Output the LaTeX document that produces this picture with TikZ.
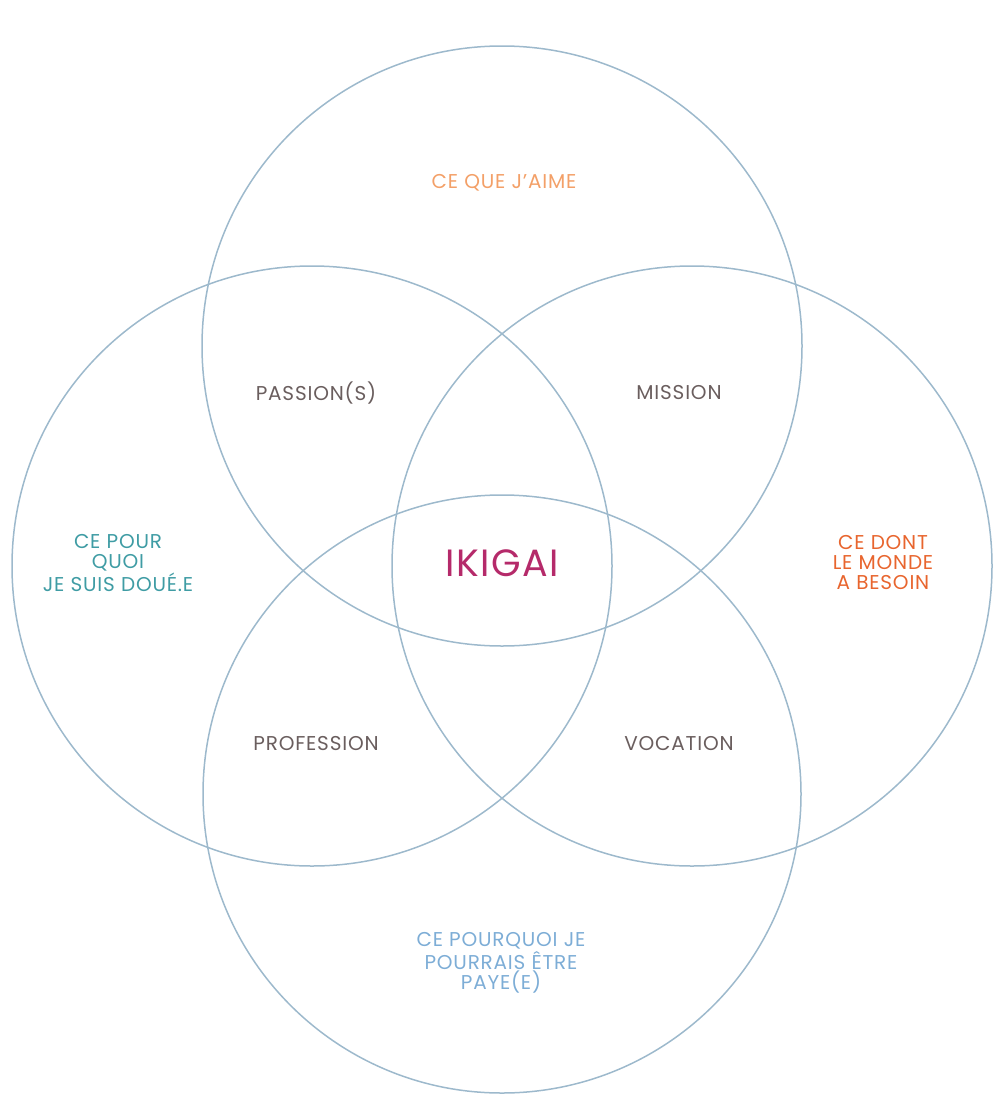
\documentclass[tikz,border=0pt]{standalone}
\usepackage{fontspec}
\setmainfont{Poppins}[LetterSpace=4]
\definecolor{ring}{HTML}{9DB9CC}
\definecolor{corange}{HTML}{F3A068}
\definecolor{cteal}{HTML}{3F9CA4}
\definecolor{cmag}{HTML}{B52A6A}
\definecolor{cred}{HTML}{E8652E}
\definecolor{cblue}{HTML}{7DADD6}
\definecolor{cgrey}{HTML}{6A5E5E}
\tikzset{
  ringline/.style={draw=ring, line width=0.75pt},
  lbl/.style={font=\fontsize{10pt}{10pt}\selectfont, align=center, inner sep=0pt},
}
\begin{document}
\begin{tikzpicture}[x=0.5pt,y=-0.5pt]
\useasboundingbox (0,0) rectangle (1005,1108);
\node[draw=none, inner sep=0pt] (ctop) at (502,346) {};
\node[draw=none, inner sep=0pt] (cleft) at (312,566) {};
\node[draw=none, inner sep=0pt] (cright) at (692,566) {};
\node[draw=none, inner sep=0pt] (cbot) at (502,794) {};
\draw[ringline] (ctop) circle[radius=300];
\draw[ringline] (cleft) circle[radius=300];
\draw[ringline] (cright) circle[radius=300];
\draw[ringline] (cbot) circle[radius=299];

\node[lbl, text=corange] (aime) at (504,183) {CE QUE J\char"27 AIME};
\node[lbl, text=cgrey] (passion) at (316,393) {PASSION(S)};
\node[lbl, text=cgrey] (mission) at (679,393) {MISSION};
\node[lbl, text=cteal] (doue) at (118,563) {CE POUR\\QUOI\\JE SUIS DOUÉ.E};
\node[lbl, text=cmag, font=\fontsize{19pt}{19pt}\selectfont] (ikigai) at (502,563) {IKIGAI};
\node[lbl, text=cred] (monde) at (883,563) {CE DONT\\LE MONDE\\A BESOIN};
\node[lbl, text=cgrey] (profession) at (316,743) {PROFESSION};
\node[lbl, text=cgrey] (vocation) at (679,743) {VOCATION};
\node[lbl, text=cblue] (paye) at (501,963) {CE POURQUOI JE\\POURRAIS ÊTRE\\PAYE(E)};
\end{tikzpicture}
\end{document}
